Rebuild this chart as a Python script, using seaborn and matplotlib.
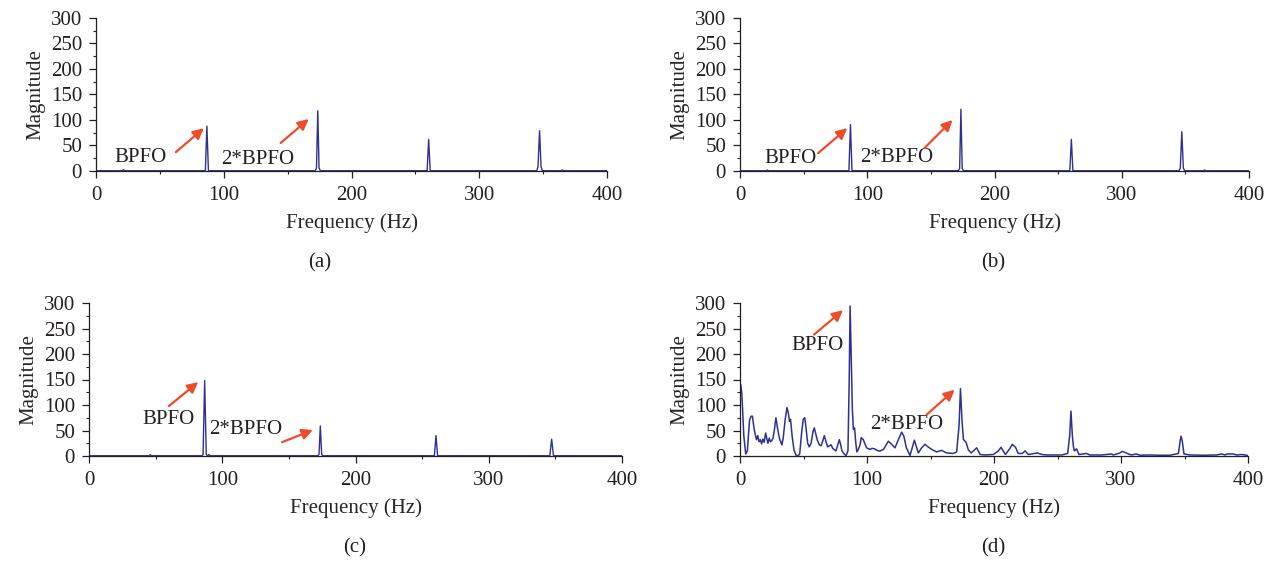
import numpy as np
import pandas as pd
import matplotlib
matplotlib.use("Agg")
import matplotlib.pyplot as plt
import seaborn as sns

# ---- spectra: frequency (Hz) and magnitude ----
freq_a = [0, 20.5, 21.5, 22.5, 85.6, 86.8, 88.0, 171.6, 172.6, 173.6, 174.6, 175.6,
          259.2, 260.4, 261.6, 345.0, 346.0, 347.2, 348.4, 349.4, 364, 365, 366, 400]
mag_a = [0.5, 0.5, 2.5, 0.5, 0.5, 88, 0.5, 0.5, 6, 118, 6, 0.5,
         0.5, 62, 0.5, 0.5, 8, 79, 8, 0.5, 0.5, 2, 0.5, 0.5]

freq_b = [0, 20.5, 21.5, 22.5, 85.6, 86.8, 88.0, 171.6, 172.6, 173.6, 174.6, 175.6,
          259.2, 260.4, 261.6, 345.0, 346.0, 347.2, 348.4, 349.4, 364, 365, 366, 400]
mag_b = [0.5, 0.5, 2.0, 0.5, 0.5, 91, 0.5, 0.5, 5, 121, 5, 0.5,
         0.5, 62, 0.5, 0.5, 6, 77, 6, 0.5, 0.5, 2, 0.5, 0.5]

freq_c = [0, 45, 46, 47, 84.8, 85.6, 86.8, 88.0, 89.0, 90.0, 91.0,
          171.6, 172.6, 173.6, 174.6, 175.6,
          259.2, 260.4, 261.6, 345.8, 347.2, 348.6, 400]
mag_c = [0.5, 0.5, 2.5, 0.5, 0.5, 3, 148, 3, 0.5, 3, 0.5,
         0.5, 3, 59, 3, 0.5,
         0.5, 40, 0.5, 0.5, 33, 0.5, 0.5]

freq_d = [0.0, 0.6, 1.5, 3.0, 4.5, 5.8, 7.5, 8.7, 9.8, 11.0, 12.0, 13.0, 14.0, 15.0, 16.0,
          17.0, 18.0, 19.0, 20.2, 21.2, 22.0, 23.0, 24.0, 25.0, 26.0, 27.0, 28.3, 29.5,
          31.0, 32.0, 33.0, 34.0, 35.5, 37.0, 38.0, 39.0, 39.8, 41.0, 42.5, 44.0, 45.5,
          47.0, 48.5, 49.8, 51.0, 52.0, 53.3, 54.5, 56.0, 57.5, 58.5, 59.5, 61.0, 62.5,
          63.8, 65.0, 66.4, 67.5, 69.0, 70.5, 71.7, 73.0, 74.5, 75.6, 77.0, 78.2, 79.3,
          80.3, 82.0, 83.5, 85.0, 86.0, 86.7, 87.5, 88.5, 89.3, 90.2, 91.2, 92.0, 93.0,
          94.5, 95.5, 97.1, 99.7, 102.4, 104.0, 106.0, 108.0, 110.0, 113.0, 116.8, 119.4,
          122.0, 124.7, 127.3, 129.0, 131.0, 133.9, 137.3, 140.4, 143.0, 145.7, 148.0,
          150.9, 154.8, 158.8, 162.7, 168.0, 170.6, 172.5, 173.6, 174.8, 175.9, 178.0,
          179.8, 182.0, 186.4, 189.0, 192.9, 199.5, 203.4, 205.5, 207.3, 209.0, 212.6,
          214.4, 217.0, 219.0, 222.3, 224.4, 227.0, 232.2, 234.3, 237.5, 241.5, 253.3,
          258.0, 259.6, 260.6, 261.7, 262.5, 263.2, 265.0, 266.9, 273.0, 275.5, 284.7,
          292.6, 294.0, 299.2, 301.0, 303.2, 305.8, 308.4, 311.8, 315.0, 322.8, 330.7,
          338.6, 345.2, 346.5, 347.3, 348.3, 349.6, 354.3, 364.8, 375.3, 379.2, 381.9,
          383.7, 388.4, 391.0, 395.0, 400.0]
mag_d = [120, 140, 120, 40, 4, 10, 70, 78, 78, 55, 42, 32, 40, 28, 32,
         24, 33, 27, 45, 33, 25, 35, 28, 30, 35, 50, 75, 55,
         35, 28, 22, 35, 70, 95, 85, 68, 72, 40, 12, 2, 0,
         4, 45, 72, 75, 55, 25, 18, 25, 48, 55, 45, 30, 22,
         20, 28, 40, 30, 18, 20, 22, 15, 12, 10, 22, 32, 22,
         10, 4, 1, 10, 150, 294, 200, 90, 52, 55, 25, 8, 12,
         22, 36, 32, 16, 12.7, 15, 14, 11, 9.5, 13, 29, 23,
         16, 32, 46.7, 39, 16, 1, 31, 6, 16, 23, 18,
         13, 8, 11, 6, 5, 8, 60, 132, 70, 32.4, 27,
         12, 6, 16, 3, 2, 3, 10, 17, 10, 3, 15,
         23, 17, 5, 5, 10, 3, 5, 6, 3, 2, 2,
         5, 40, 88, 40, 19, 10, 14, 3, 5, 2, 2,
         4, 2, 6, 9, 7, 4, 2, 4, 1.5, 2, 1.5,
         1.5, 5, 28, 39, 28, 4, 2, 1.5, 2, 4, 2,
         4, 4, 2, 3, 1]

x_ticks = [0, 100, 200, 300, 400]
y_ticks = [0, 50, 100, 150, 200, 250, 300]
captions = ["(a)", "(b)", "(c)", "(d)"]

# annotation text positions and arrow (tail, head) in data units
labels = [
    [("BPFO", (35.2, 27), (62.5, 37), (84.4, 84)),
     ("2*BPFO", (126.6, 22), (144.6, 55), (166.5, 102))],
    [("BPFO", (39.4, 25), (61.4, 35), (84.3, 84)),
     ("2*BPFO", (122.8, 27), (145.0, 45), (167.0, 100))],
    [("BPFO", (59.3, 70.6), (60.0, 98), (82.0, 145)),
     ("2*BPFO", (117.8, 51), (144.8, 27), (168.0, 51))],
    [("BPFO", (61.4, 217), (58.3, 238), (81.1, 286)),
     ("2*BPFO", (131.5, 62), (147.0, 81), (169.0, 130))],
]

sns.set_theme(style="ticks")
plt.rcParams["font.family"] = ["Liberation Serif", "DejaVu Serif"]
plt.rcParams["text.color"] = "#231F20"

W, H = 1275, 563
fig = plt.figure(figsize=(W / 100, H / 100), dpi=100)
fig.patch.set_facecolor("white")

# axes boxes in pixels: left, right, top, bottom
boxes = [(96, 607, 18, 171), (740, 1249, 18, 171),
         (89, 622, 303, 456), (740, 1248, 303, 456)]
caption_xy = [(320, 263), (993, 263), (355, 548), (993, 548)]

line_color = "#2E3192"
arrow_color = "#EE4B2B"
fs = 15

series = [(freq_a, mag_a), (freq_b, mag_b), (freq_c, mag_c), (freq_d, mag_d)]

for i, ((l, r, t, b), (fr, mg)) in enumerate(zip(boxes, series)):
    ax = fig.add_axes([l / W, 1 - b / H, (r - l) / W, (b - t) / H])
    df = pd.DataFrame({"Frequency (Hz)": fr, "Magnitude": mg})
    sns.lineplot(data=df, x="Frequency (Hz)", y="Magnitude", ax=ax,
                 color=line_color, lw=1.1 if i == 3 else 1.0,
                 estimator=None, sort=False)
    ax.set_xlim(0, 400)
    ax.set_ylim(0, 300)
    ax.set_xticks(x_ticks)
    ax.set_yticks(y_ticks)
    ax.set_xticks([50, 150, 250, 350], minor=True)
    ax.set_yticks([25, 75, 125, 175, 225, 275], minor=True)
    ax.tick_params(axis="both", which="major", direction="out", length=5,
                   width=0.9, colors="#231F20", labelsize=fs)
    ax.tick_params(axis="both", which="minor", direction="out", length=2.5,
                   width=0.8, colors="#231F20")
    ax.tick_params(axis="x", which="major", pad=6)
    ax.tick_params(axis="y", which="major", pad=5)
    for s in ("top", "right"):
        ax.spines[s].set_visible(False)
    for s in ("left", "bottom"):
        ax.spines[s].set_linewidth(0.9)
        ax.spines[s].set_color("#231F20")
    ax.set_facecolor("white")
    ax.set_xlabel("Frequency (Hz)", fontsize=fs, labelpad=6)
    ax.set_ylabel("Magnitude", fontsize=fs, labelpad=4)

    for txt, pos, tail, head in labels[i]:
        ax.text(pos[0], pos[1], txt, fontsize=fs, ha="center", va="center")
        ax.annotate("", xy=head, xytext=tail,
                    arrowprops=dict(arrowstyle="-|>", color=arrow_color,
                                    lw=1.6, mutation_scale=16,
                                    shrinkA=0, shrinkB=0))

    cx, cy = caption_xy[i]
    fig.text(cx / W, 1 - cy / H, captions[i], fontsize=fs,
             ha="center", va="center")

fig.savefig("out.png", dpi=100, facecolor="white")
